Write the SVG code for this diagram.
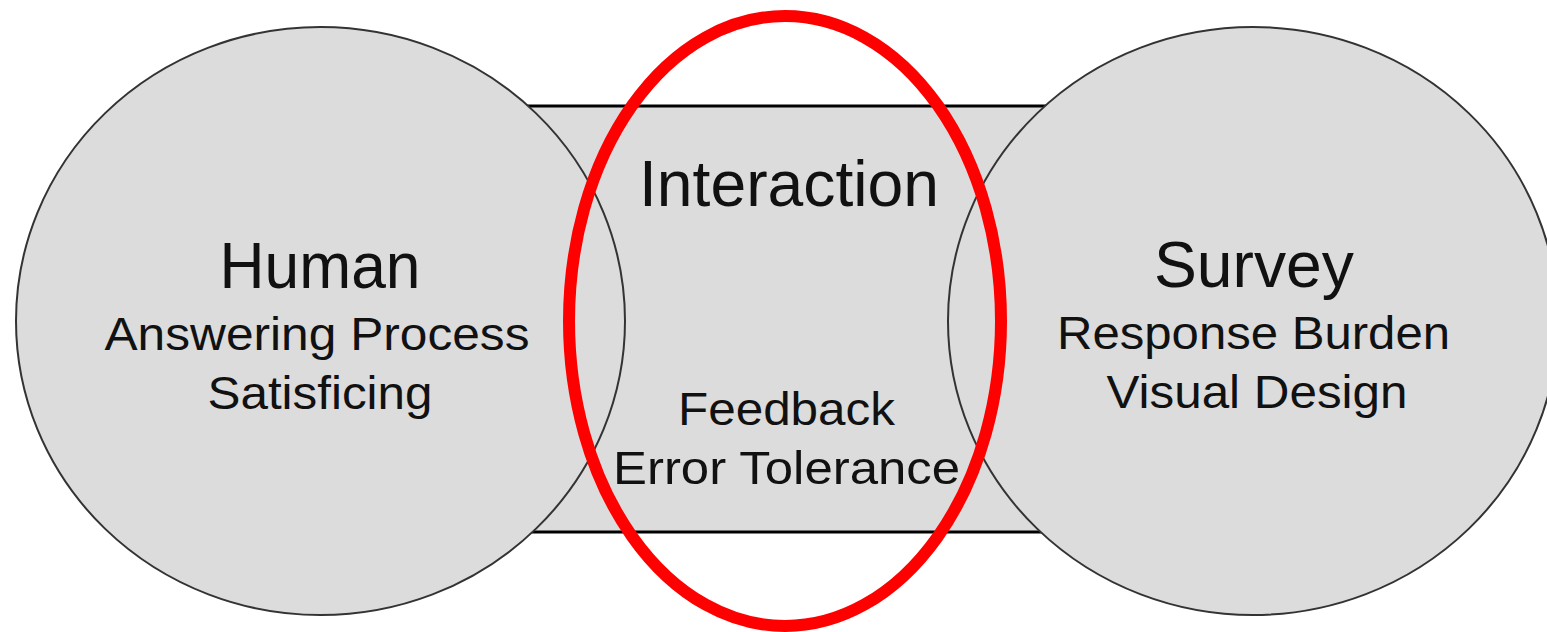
<svg xmlns="http://www.w3.org/2000/svg" width="1547" height="632" viewBox="0 0 1547 632">
<style>
.bg{fill:#ffffff}
.circ{fill:#dcdcdc;stroke:#333333;stroke-width:2}
.band{fill:#dcdcdc;stroke:#000000;stroke-width:3}
.ring{fill:none;stroke:#ff0000;stroke-width:12}
text{font-family:"Liberation Sans",Arial,sans-serif;fill:#111111;text-anchor:middle}
.big{font-size:65px}
.small{font-size:46px}
</style>
<rect class="bg" x="0" y="0" width="1547" height="632"/>
<g id="interaction-band">
<rect class="band" x="480" y="106" width="620" height="426"/>
</g>
<g id="human">
<ellipse class="circ" cx="320.5" cy="321" rx="304.5" ry="294"/>
<text class="big" x="320" y="288" textLength="201" lengthAdjust="spacingAndGlyphs">Human</text>
<text class="small" x="317" y="350" textLength="425" lengthAdjust="spacingAndGlyphs">Answering Process</text>
<text class="small" x="320" y="409" textLength="225" lengthAdjust="spacingAndGlyphs">Satisficing</text>
</g>
<g id="survey">
<ellipse class="circ" cx="1253" cy="321" rx="305" ry="294"/>
<text class="big" x="1254" y="287" textLength="200" lengthAdjust="spacingAndGlyphs">Survey</text>
<text class="small" x="1253.5" y="349" textLength="393" lengthAdjust="spacingAndGlyphs">Response Burden</text>
<text class="small" x="1257" y="408" textLength="301" lengthAdjust="spacingAndGlyphs">Visual Design</text>
</g>
<g id="interaction">
<text class="big" x="789" y="206" textLength="300" lengthAdjust="spacingAndGlyphs">Interaction</text>
<text class="small" x="786.5" y="425" textLength="217" lengthAdjust="spacingAndGlyphs">Feedback</text>
<text class="small" x="786.5" y="484" textLength="347" lengthAdjust="spacingAndGlyphs">Error Tolerance</text>
</g>
<g id="connectors"></g>
<g id="highlight">
<ellipse class="ring" cx="785" cy="321" rx="216" ry="305"/>
</g>
</svg>
